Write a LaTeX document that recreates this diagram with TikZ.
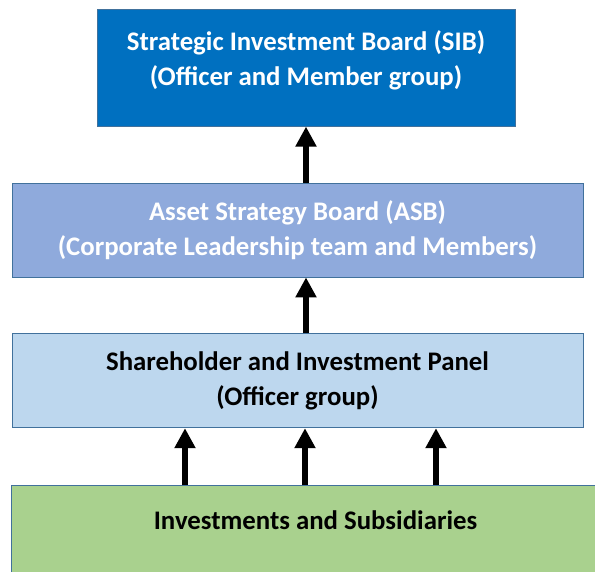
\documentclass[tikz,border=0pt]{standalone}
\usepackage{fontspec}
\setmainfont{Carlito}
\usetikzlibrary{arrows.meta,positioning,calc}
\definecolor{sibblue}{HTML}{0070C0}
\definecolor{asbblue}{HTML}{8FAADC}
\definecolor{panelblue}{HTML}{BDD7EE}
\definecolor{invgreen}{HTML}{A9D18E}
\definecolor{edgeblue}{HTML}{41719C}
\tikzset{
  board/.style  ={rectangle, draw=edgeblue, line width=0.8pt, align=center,
                  font=\bfseries\fontsize{26.8}{35}\selectfont, inner sep=0pt,
                  minimum width=571pt, minimum height=94pt},
  boardS/.style ={board, fill=sibblue, text=white, minimum width=418pt,
                  minimum height=117pt, text depth=20pt},   % oberste Ebene
  boardA/.style ={board, fill=asbblue, text=white},
  boardP/.style ={board, fill=panelblue, text=black},
  boardI/.style ={board, fill=invgreen, text=black, minimum width=609pt,
                  minimum height=0pt, text height=44pt, text depth=104pt},
  flow/.style   ={-{Triangle[length=20pt,width=20pt]}, line width=6.5pt, draw=black},
}
\begin{document}
\begin{tikzpicture}[x=1pt, y=-1pt, node distance=56pt]
  \useasboundingbox (0,0) rectangle (595,572);
  \node[boardA] (asb) at (297.5,230)
    {Asset Strategy Board (ASB)\\(Corporate Leadership team and Members)};
  \node[boardS, above=of asb, xshift=8.5pt] (sib)
    {Strategic Investment Board (SIB)\\(Officer and Member group)};
  \node[boardP, below=of asb] (panel)
    {Shareholder and Investment Panel\\(Officer group)};
  \node[boardI, below=57pt of panel, xshift=18pt] (inv)
    {Investments and Subsidiaries};
  \draw[flow] (asb.north -| sib.south) -- (sib.south);
  \draw[flow] (panel.north -| sib.south) -- (asb.south -| sib.south);
  \foreach \x in {185,305,436}
    \draw[flow] (inv.north -| \x,0) -- (panel.south -| \x,0);
\end{tikzpicture}
\end{document}
